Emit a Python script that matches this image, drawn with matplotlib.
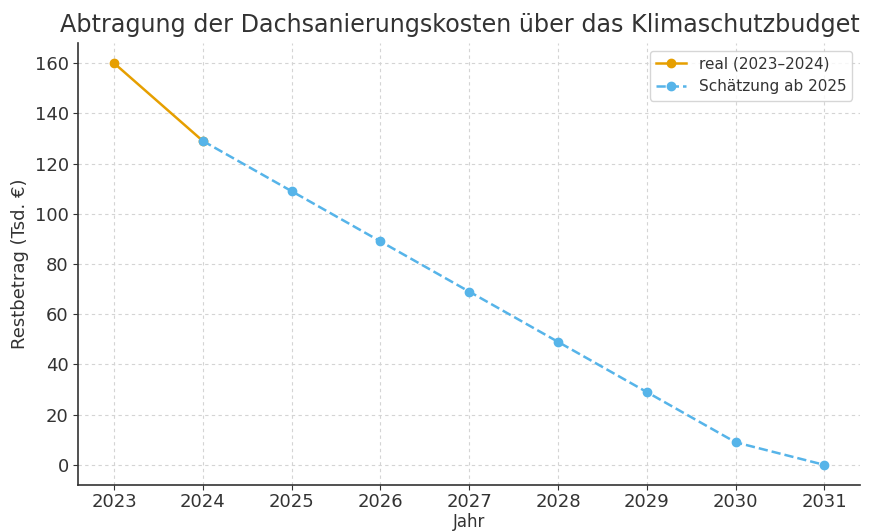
import matplotlib
matplotlib.use("Agg")
import matplotlib.pyplot as plt

years_real = [2023, 2024]
values_real = [160, 129]
years_est = [2024, 2025, 2026, 2027, 2028, 2029, 2030, 2031]
values_est = [129, 109, 89, 69, 49, 29, 9, 0]

plt.rcParams['font.family'] = ['DejaVu Sans']
text_color = '#333333'

fig = plt.figure(figsize=(8.78, 5.31), dpi=100)
ax = fig.add_axes([0.0894, 0.0866, 0.8901, 0.8324])

ax.plot(years_real, values_real, color='#E69F00', marker='o', markersize=6,
        linewidth=1.8, label='real (2023–2024)', zorder=3)
ax.plot(years_est, values_est, color='#56B4E9', marker='o', markersize=6,
        linewidth=1.8, linestyle='--', label='Schätzung ab 2025', zorder=3)

ax.set_xticks(range(2023, 2032))
ax.set_yticks(range(0, 161, 20))
ax.tick_params(labelsize=13, colors=text_color)
ax.tick_params(axis='x', pad=2.5)
ax.grid(True, linestyle=(0, (3, 3)), color='#d4d4d4', linewidth=0.8)
ax.spines['top'].set_visible(False)
ax.spines['right'].set_visible(False)
for s in ['left', 'bottom']:
    ax.spines[s].set_color('#333333')
    ax.spines[s].set_linewidth(1.2)

ax.set_xlabel('Jahr', fontsize=12, color=text_color)
ax.xaxis.set_label_coords(0.5, -0.064)
ax.set_ylabel('Restbetrag (Tsd. €)', fontsize=13, color=text_color)
ax.set_title('Abtragung der Dachsanierungskosten über das Klimaschutzbudget',
             fontsize=17.2, color=text_color, loc='left', x=-0.024, pad=8)
ax.legend(loc='upper right', fontsize=11, labelcolor=text_color)

fig.savefig('out.png', dpi=100)
